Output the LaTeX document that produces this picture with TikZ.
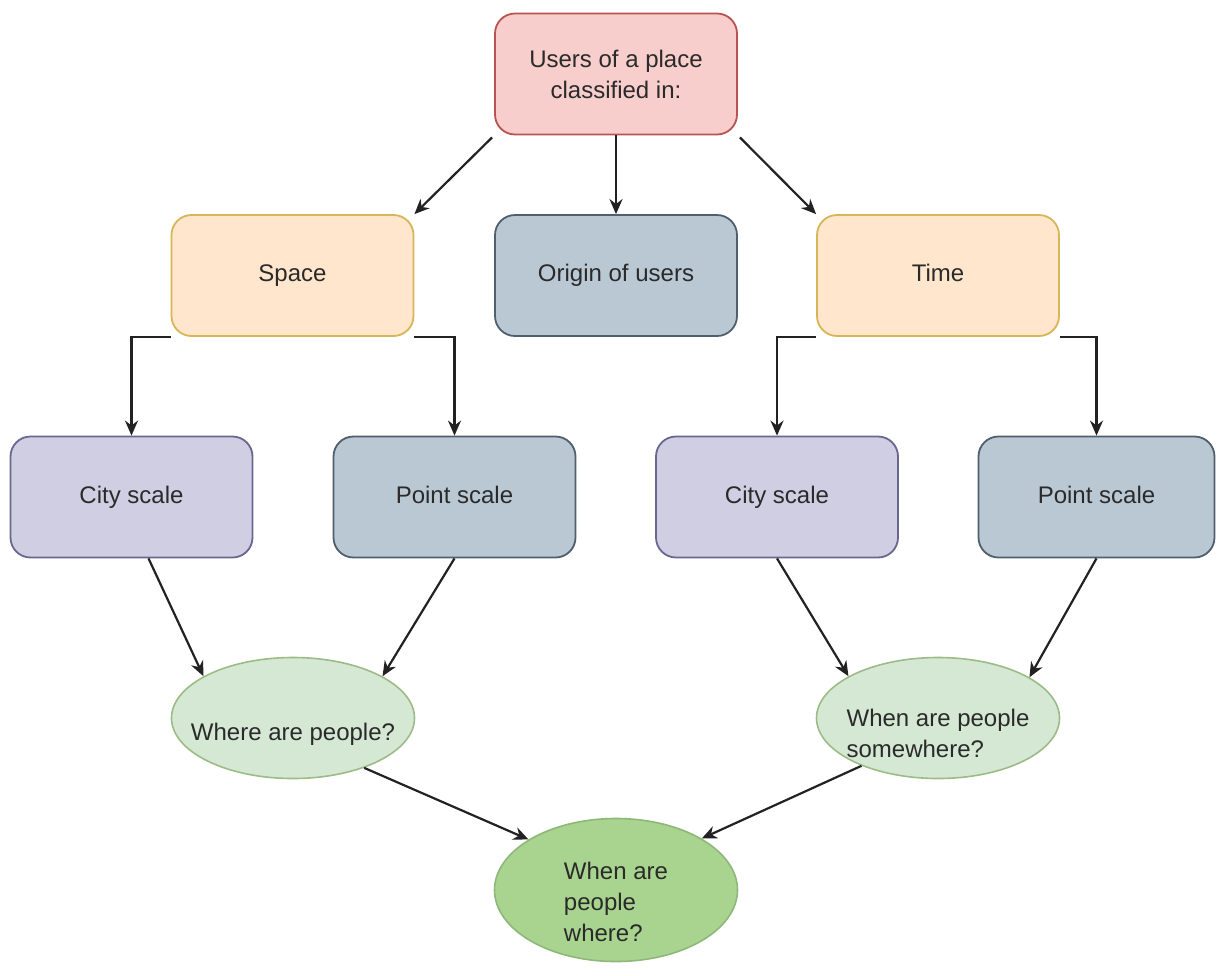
\documentclass[tikz,border=0pt]{standalone}
\usepackage{fontspec}
\setmainfont{Liberation Sans}
\usetikzlibrary{arrows.meta,calc,shapes.geometric}
\definecolor{pinkF}{HTML}{F8CECC}\definecolor{pinkD}{HTML}{B85450}
\definecolor{orF}{HTML}{FFE6CC}\definecolor{orD}{HTML}{D6B656}
\definecolor{blF}{HTML}{BAC8D3}\definecolor{blD}{HTML}{4F5F6C}
\definecolor{puF}{HTML}{D0CEE2}\definecolor{puD}{HTML}{6A6690}
\definecolor{grF}{HTML}{D5E8D4}\definecolor{grD}{HTML}{9DBB86}
\definecolor{dgF}{HTML}{A8D48F}\definecolor{dgD}{HTML}{8FB77A}
\definecolor{txt}{HTML}{2A2A2A}
\definecolor{ln}{HTML}{222222}
\tikzset{
  txtfont/.style={font=\fontsize{24}{31}\selectfont, text=txt},
  box/.style={rectangle, rounded corners=20pt, minimum width=242pt, minimum height=121pt, inner sep=0pt, line width=1.8pt, align=center, txtfont},
  oneline/.style={text height=17pt, text depth=5pt},
  pinkbox/.style={box, fill=pinkF, draw=pinkD},
  orbox/.style={box, oneline, fill=orF, draw=orD},
  blbox/.style={box, oneline, fill=blF, draw=blD},
  pubox/.style={box, oneline, fill=puF, draw=puD},
  oval/.style={ellipse, minimum width=243pt, minimum height=121pt, inner sep=0pt, line width=1.6pt, fill=grF, draw=grD},
  inlabel/.style={txtfont, align=left},
  arr/.style={draw=ln, line width=2.2pt, -{Stealth[length=15pt,width=13pt]}},
}
\begin{document}
\begin{tikzpicture}[x=1pt,y=-1pt]
\useasboundingbox (0,0) rectangle (1217,975);
\node[pinkbox] (top) at (616,74) {Users of a place\\classified in:};
\node[orbox] (space) at (292.5,275.5) {Space};
\node[blbox] (origin) at (616,275.5) {Origin of users};
\node[orbox] (time) at (938,275.5) {Time};
\node[pubox] (cityL) at (131.5,497) {City scale};
\node[blbox] (pointL) at (454.5,497) {Point scale};
\node[pubox] (cityR) at (777,497) {City scale};
\node[blbox, minimum width=236pt] (pointR) at (1096.5,497) {Point scale};
\node[oval, label={[inlabel, yshift=-16pt]center:Where are people?}] (whereE) at (293,718) {};
\node[oval, label={[inlabel, yshift=-15pt]center:When are people\\somewhere?}] (whenE) at (938,718) {};
\node[oval, minimum height=143pt, fill=dgF, draw=dgD, label={[inlabel, yshift=-12pt]center:When are\\people\\where?}] (bothE) at (616,890) {};

\draw[arr] ($(top.south west)+(-2,2)$) -- (space.north east);
\draw[arr] (top.south) -- (origin.north);
\draw[arr] ($(top.south east)+(2,2)$) -- (time.north west);
\draw[arr] (space.south west) -| (cityL.north);
\draw[arr] (space.south east) -| (pointL.north);
\draw[arr] (time.south west) -| (cityR.north);
\draw[arr] (time.south east) -| (pointR.north);
\draw[arr] ($(cityL.south)+(17,0)$) -- (whereE.155);
\draw[arr] (pointL.south) -- (whereE.25);
\draw[arr] (cityR.south) -- (whenE.155);
\draw[arr] (pointR.south) -- (whenE.24);
\draw[arr] (whereE.-35) -- (bothE.150);
\draw[arr] (whenE.212) -- (bothE.31);
\end{tikzpicture}
\end{document}
